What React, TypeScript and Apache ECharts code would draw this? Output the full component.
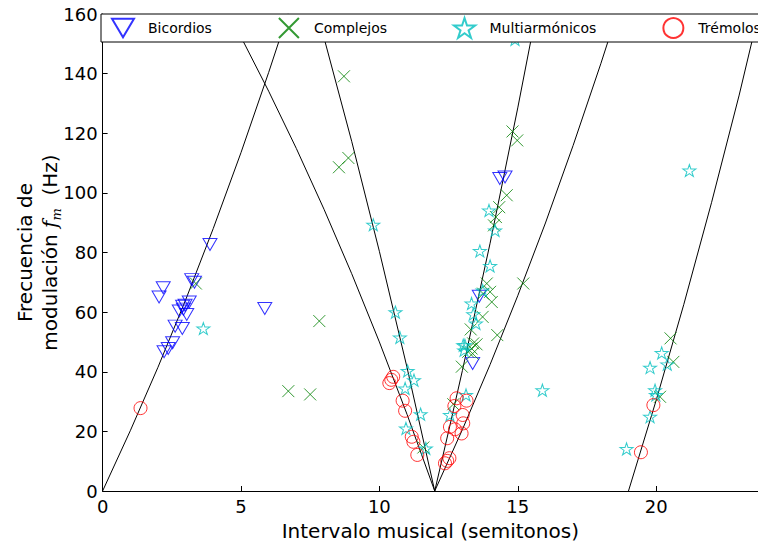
import React, { useEffect, useRef } from "react";
import * as echarts from "echarts";

const bicordios = [
  [3.88, 82.7], [2.19, 68.2], [2.04, 65.1], [3.22, 70.9], [3.32, 70.0], [3.13, 63.4],
  [2.98, 62.3], [2.89, 62.0], [2.77, 60.4], [3.04, 59.2], [2.92, 61.0], [2.62, 55.3],
  [2.88, 54.5], [2.53, 49.7], [2.37, 47.8], [2.22, 46.7], [5.86, 61.2], [14.35, 104.8],
  [14.54, 105.3], [13.61, 65.3], [13.37, 42.8],
];

const complejos = [
  [8.72, 139.1], [8.88, 111.7], [8.54, 108.6], [7.83, 57.0], [6.71, 33.5], [7.5, 32.4],
  [3.37, 69.6], [11.59, 14.6], [12.67, 29.1], [14.6, 99.2], [14.33, 95.2], [14.21, 91.9],
  [14.14, 89.1], [15.2, 69.6], [14.26, 52.3], [13.88, 69.6], [14.0, 66.8], [14.06, 63.4],
  [13.75, 66.2], [13.73, 58.4], [13.3, 54.2], [13.39, 49.5], [13.51, 49.2], [13.33, 47.8],
  [13.21, 46.7], [13.37, 46.1], [12.98, 41.7], [14.81, 120.6], [14.98, 117.6],
  [20.52, 51.2], [20.62, 43.3], [20.14, 31.6],
];

const multiarmonicos = [
  [3.64, 54.5], [9.78, 89.3], [10.58, 60.0], [10.74, 51.5], [11.02, 40.3], [11.25, 37.2],
  [10.93, 34.4], [11.49, 25.8], [10.96, 21.0], [11.68, 14.3], [13.13, 32.2], [12.55, 25.5],
  [13.09, 48.9], [14.9, 151.5], [13.96, 94.1], [14.18, 87.4], [13.63, 80.5], [14.0, 75.5],
  [13.73, 67.3], [13.33, 62.9], [13.39, 59.3], [13.49, 56.2], [13.03, 48.9], [13.06, 47.2],
  [15.89, 33.8], [21.2, 107.5], [20.2, 46.3], [19.78, 41.4], [20.4, 42.5], [19.96, 33.8],
  [19.99, 32.2], [19.78, 24.9], [18.93, 14.1],
];

const tremolos = [
  [1.37, 27.8], [10.5, 38.3], [10.36, 36.2], [10.43, 37.3], [10.84, 30.3], [10.93, 26.9],
  [11.17, 18.2], [11.23, 16.5], [11.37, 12.1], [12.79, 31.1], [13.15, 30.3], [12.71, 28.5],
  [13.01, 25.5], [13.03, 22.7], [12.55, 21.5], [12.73, 20.7], [12.97, 19.3], [12.45, 17.7],
  [12.53, 11.0], [12.45, 10.1], [12.37, 9.3], [19.9, 28.8], [19.45, 13.0],
];

// theoretical curves
const curve1 = [[0, 0], [1, 20.2], [2, 41.5], [3, 64.1], [4, 88.1], [5, 113.5], [6, 140.4], [6.7, 160.1]];
const curve2 = [[12, 0], [11, 25.7], [10, 50.0], [9, 72.9], [8, 94.5], [7, 114.9], [6, 134.1], [5, 152.3], [4.56, 160]];
const curve3 = [[12, 0], [11, 41.4], [10, 80.4], [9, 117.3], [8, 152.0], [7.76, 160]];
const curve4 = [[12, 0], [12.5, 20.0], [13, 40.4], [14, 83.1], [15, 128.5], [15.66, 160]];
const curve5 = [[12, 0], [13, 20.6], [14, 42.4], [15, 65.5], [16, 89.9], [17, 115.9], [18, 143.3], [18.58, 160]];
const curve6 = [[19, 0], [20, 30.4], [21, 62.6], [22, 96.7], [23, 132.8], [23.7, 160.1]];
const curves = [curve1, curve2, curve3, curve4, curve5, curve6];

const X_MIN = 0;
const X_MAX = 23.68;
const X_INTERVAL = 5;
const Y_MIN = 0;
const Y_MAX = 160;
const Y_INTERVAL = 20;

const FONT = "DejaVu Sans";

const TRI = "path://M0,0L20,0L10,17Z";
const CROSS = "path://M0,0L10,10M10,0L0,10";
const STAR =
  "path://M50,0L61.2,34.5L97.6,34.5L68.2,55.9L79.4,90.5L50,69.1L20.6,90.5L31.8,55.9L2.4,34.5L38.8,34.5Z";

export default function App() {
  const ref = useRef<HTMLDivElement>(null);

  useEffect(() => {
    if (!ref.current) return;
    const chart = echarts.init(ref.current, undefined, { renderer: "svg" });

    const scatter = (name: string, data: number[][], symbol: string, size: any, color: string) => ({
      name,
      type: "scatter",
      data,
      symbol,
      symbolSize: size,
      z: 3,
      itemStyle: { color: "transparent", borderColor: color, borderWidth: 1 },
      emphasis: { disabled: true },
    });

    const lineSeries = curves.map((c) => ({
      type: "line",
      data: c,
      showSymbol: false,
      symbol: "none",
      silent: true,
      z: 2,
      lineStyle: { color: "#000", width: 1 },
      clip: true,
    }));

    chart.setOption({
      animation: false,
      grid: {
        left: 102.6,
        right: 0,
        top: 14,
        bottom: 53,
        containLabel: false,
        outerBoundsMode: "none",
      },
      xAxis: [
        {
          type: "value",
          min: X_MIN,
          max: X_MAX,
          interval: X_INTERVAL,
          name: "Intervalo musical (semitonos)",
          nameLocation: "middle",
          nameGap: 30,
          nameMoveOverlap: false,
          nameTextStyle: { fontFamily: FONT, fontSize: 20, color: "#000" },
          axisLine: { show: true, lineStyle: { color: "#000", width: 1 } },
          axisTick: { show: true, inside: true, length: 5, lineStyle: { color: "#000" } },
          axisLabel: { fontFamily: FONT, fontSize: 18, color: "#000", margin: 6, showMaxLabel: false },
          splitLine: { show: false },
        },
        {
          type: "value",
          position: "top",
          min: X_MIN,
          max: X_MAX,
          interval: X_INTERVAL,
          axisLine: { show: true, lineStyle: { color: "#000", width: 1 } },
          axisTick: { show: true, inside: true, length: 5, lineStyle: { color: "#000" } },
          axisLabel: { show: false },
          splitLine: { show: false },
        },
      ],
      yAxis: {
        type: "value",
        min: Y_MIN,
        max: Y_MAX,
        interval: Y_INTERVAL,
        name: "Frecuencia de\nmodulación {f|f}{m|m}  (Hz)",
        nameLocation: "middle",
        nameRotate: 90,
        nameGap: 40,
        nameMoveOverlap: false,
        nameTextStyle: {
          fontFamily: FONT,
          fontSize: 20,
          color: "#000",
          lineHeight: 25,
          rich: {
            f: { fontFamily: "DejaVu Serif", fontStyle: "italic", fontSize: 20, color: "#000", lineHeight: 25 },
            m: { fontFamily: "DejaVu Serif", fontStyle: "italic", fontSize: 13, color: "#000", lineHeight: 25, verticalAlign: "bottom", padding: [8, 0, 0, 0] },
          },
        },
        axisLine: { show: true, lineStyle: { color: "#000", width: 1 } },
        axisTick: { show: true, inside: true, length: 5, lineStyle: { color: "#000" } },
        axisLabel: { fontFamily: FONT, fontSize: 18, color: "#000", margin: 5 },
        splitLine: { show: false },
      },
      legend: {
        left: 101,
        top: 14,
        width: 1000,
        itemWidth: 22,
        itemHeight: 20,
        itemGap: 66,
        padding: [3, 10, 3, 10],
        backgroundColor: "#fff",
        borderColor: "#000",
        borderWidth: 1,
        borderRadius: 0,
        selectedMode: false,
        textStyle: { fontFamily: FONT, fontSize: 14, color: "#000", padding: [0, 0, 0, 9] },
        data: [
          { name: "Bicordios", icon: TRI },
          { name: "Complejos", icon: CROSS },
          { name: "Multiarmónicos", icon: STAR },
          { name: "Trémolos", icon: "circle" },
        ],
      },
      series: [
        ...lineSeries,
        scatter("Bicordios", bicordios, TRI, [14, 12], "#0000ff"),
        scatter("Complejos", complejos, CROSS, [12, 12], "#008000"),
        scatter("Multiarmónicos", multiarmonicos, STAR, [13, 12], "#00bfbf"),
        scatter("Trémolos", tremolos, "circle", 13, "#ff0000"),
      ],
    });

    return () => chart.dispose();
  }, []);

  return (
    <div
      ref={ref}
      style={{ position: "fixed", left: 0, top: 0, width: 758, height: 544, background: "#fff" }}
    />
  );
}
